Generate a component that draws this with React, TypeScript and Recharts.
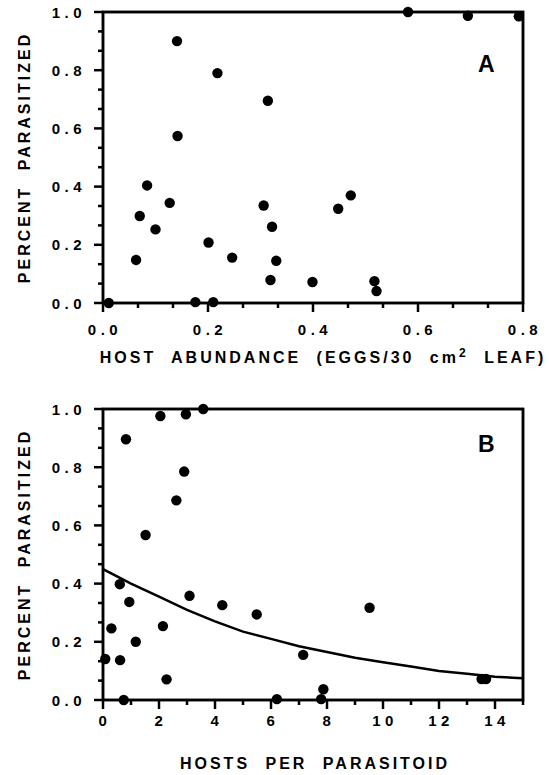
import { ScatterChart, Scatter, XAxis, YAxis, ReferenceArea } from 'recharts'

// panel A: host abundance vs percent parasitized
const abundanceX = [0.011, 0.141, 0.218, 0.314, 0.142, 0.084, 0.127, 0.070, 0.306, 0.100, 0.322, 0.448, 0.472, 0.201, 0.063, 0.246, 0.330, 0.319, 0.399, 0.176, 0.210, 0.517, 0.521, 0.581, 0.695, 0.792]
const abundanceY = [0.0, 0.90, 0.79, 0.695, 0.574, 0.404, 0.344, 0.299, 0.335, 0.253, 0.262, 0.324, 0.37, 0.208, 0.148, 0.156, 0.145, 0.079, 0.072, 0.003, 0.003, 0.075, 0.041, 1.0, 0.987, 0.985]

// panel B: hosts per parasitoid vs percent parasitized
const hostsX = [3.58, 2.05, 2.96, 0.82, 2.90, 2.62, 1.52, 0.60, 3.09, 0.94, 4.26, 5.49, 0.30, 2.14, 1.17, 0.08, 0.61, 2.27, 0.74, 6.21, 7.15, 7.87, 7.79, 9.52, 13.52, 13.68]
const hostsY = [1.0, 0.976, 0.982, 0.896, 0.785, 0.686, 0.567, 0.398, 0.358, 0.337, 0.326, 0.294, 0.246, 0.254, 0.200, 0.141, 0.137, 0.071, 0.0, 0.003, 0.155, 0.037, 0.003, 0.317, 0.072, 0.072]

// fitted curve in panel B
const curveX = [0, 1, 2, 3, 4, 5, 6, 7, 8, 9, 10, 11, 12, 13, 14, 15]
const curveY = [0.45, 0.40, 0.355, 0.31, 0.27, 0.235, 0.21, 0.185, 0.165, 0.145, 0.13, 0.115, 0.10, 0.09, 0.08, 0.075]

const pctLabels = ['0.0', '0.2', '0.4', '0.6', '0.8', '1.0']
const abundanceLabels = ['0.0', '0.2', '0.4', '0.6', '0.8']
const hostsLabels = ['0', '2', '4', '6', '8', '10', '12', '14']

const X_MAX_A = 0.8
const X_MAX_B = 15

const dataA = abundanceX.map((x, i) => ({ x, y: abundanceY[i] }))
const dataB = hostsX.map((x, i) => ({ x, y: hostsY[i] }))
const curve = curveX.map((x, i) => ({ x, y: curveY[i] }))

// three minor steps per 0.2 on the decimal axes
const thirds = (max: number) => Array.from({ length: Math.round(max / 0.2) * 3 + 1 }, (_, i) => (i * 0.2) / 3)
const pctTicks = thirds(1)
const abTicks = thirds(X_MAX_A)
const hostTicks = Array.from({ length: X_MAX_B + 1 }, (_, i) => i)

const labelFor = (v: number, labels: string[], step: number) => {
  const k = v / step
  if (Math.abs(k - Math.round(k)) > 1e-6) return null
  return labels[Math.round(k)] ?? ''
}

// box around the plot, and tick marks as points on the axes
const frame = (xMax: number) => [{ x: 0, y: 0 }, { x: xMax, y: 0 }, { x: xMax, y: 1 }, { x: 0, y: 1 }, { x: 0, y: 0 }]
const xMarks = (ticks: number[], labels: string[], step: number) =>
  ticks.map(x => ({ x, y: 0, len: labelFor(x, labels, step) === null ? 5 : 9 }))
const yMarks = pctTicks.map(y => ({ x: 0, y, len: labelFor(y, pctLabels, 0.2) === null ? 5 : 9 }))

const FONT = '"Liberation Sans", Arial, sans-serif'
const TXT = { fontFamily: FONT, fontWeight: 700, fill: '#000' }

const Dot = (p: any) => <circle cx={p.cx} cy={p.cy} r={5.2} fill="#000" />
const XMark = (p: any) => <path d={`M${p.cx},${p.cy}v${p.payload.len}`} stroke="#000" strokeWidth={2.5} fill="none" />
const YMark = (p: any) => <path d={`M${p.cx},${p.cy}h${-p.payload.len}`} stroke="#000" strokeWidth={2.5} fill="none" />
const NoShape = () => null

const YTick = (p: any) => {
  const t = labelFor(p.payload.value, pctLabels, 0.2)
  if (!t) return <g />
  return <text x={p.x - 17} y={p.y} dy={5.5} textAnchor="end" fontSize={15} letterSpacing={4.5} {...TXT}>{t}</text>
}

const makeXTick = (labels: string[], step: number, dy: number) => (p: any) => {
  const t = labelFor(p.payload.value, labels, step)
  if (!t) return <g />
  return <text x={p.x + 2} y={p.y} dy={dy} textAnchor="middle" fontSize={15} letterSpacing={4.5} {...TXT}>{t}</text>
}

const titleProps = { fontSize: 16, letterSpacing: 3, wordSpacing: 8, style: { wordSpacing: 8 }, ...TXT }

const yTitle = (p: any) => {
  const vb = p.viewBox
  const cy = vb.y + vb.height / 2
  return (
    <text x={24} y={cy} transform={`rotate(-90 24 ${cy})`} textAnchor="middle" dy={6} {...titleProps}>
      PERCENT PARASITIZED
    </text>
  )
}

const xTitleA = (p: any) => {
  const vb = p.viewBox
  return (
    <text x={vb.x + vb.width / 2 + 10} y={vb.y + 54} dy={6} textAnchor="middle" {...titleProps}>
      HOST ABUNDANCE (EGGS/30 cm<tspan dy={-6} fontSize={12}>2</tspan><tspan dy={6}> LEAF)</tspan>
    </text>
  )
}

const xTitleB = (p: any) => {
  const vb = p.viewBox
  return (
    <text x={vb.x + vb.width / 2 + 2} y={vb.y + 63} dy={6} textAnchor="middle" {...titleProps}>
      HOSTS PER PARASITOID
    </text>
  )
}

const panelLetter = (letter: string, top: number) => (p: any) => {
  const vb = p.viewBox
  return <text x={vb.x + vb.width - 45} y={vb.y + top} fontSize={23} {...TXT}>{letter}</text>
}

const lineStyle = { stroke: '#000', strokeWidth: 2.5 }

export default function App() {
  return (
    <div style={{ width: 549, height: 775 }}>
      <style>{'body{margin:0;overflow:hidden}'}</style>
      <ScatterChart width={549} height={395} margin={{ top: 12, right: 26, bottom: 62, left: 43 }}>
        <XAxis type="number" dataKey="x" domain={[0, X_MAX_A]} ticks={abTicks} interval={0} tick={makeXTick(abundanceLabels, 0.2, 32)} tickSize={0} tickMargin={0} height={30} axisLine={false} tickLine={false} label={xTitleA} />
        <YAxis type="number" dataKey="y" domain={[0, 1]} ticks={pctTicks} interval={0} tick={YTick} tickSize={0} tickMargin={0} width={60} axisLine={false} tickLine={false} label={yTitle} />
        <ReferenceArea x1={0} x2={X_MAX_A} y1={0} y2={1} fill="#fff" fillOpacity={0} stroke="#000" strokeWidth={2.5} label={panelLetter('A', 60)} />
        <Scatter data={frame(X_MAX_A)} line={lineStyle} lineType="joint" shape={NoShape} isAnimationActive={false} />
        <Scatter data={xMarks(abTicks, abundanceLabels, 0.2)} shape={XMark} isAnimationActive={false} />
        <Scatter data={yMarks} shape={YMark} isAnimationActive={false} />
        <Scatter data={dataA} shape={Dot} isAnimationActive={false} />
      </ScatterChart>
      <ScatterChart width={549} height={380} margin={{ top: 14, right: 26, bottom: 45, left: 43 }}>
        <XAxis type="number" dataKey="x" domain={[0, X_MAX_B]} ticks={hostTicks} interval={0} tick={makeXTick(hostsLabels, 2, 26)} tickSize={0} tickMargin={0} height={30} axisLine={false} tickLine={false} label={xTitleB} />
        <YAxis type="number" dataKey="y" domain={[0, 1]} ticks={pctTicks} interval={0} tick={YTick} tickSize={0} tickMargin={0} width={60} axisLine={false} tickLine={false} label={yTitle} />
        <ReferenceArea x1={0} x2={X_MAX_B} y1={0} y2={1} fill="#fff" fillOpacity={0} stroke="#000" strokeWidth={2.5} label={panelLetter('B', 43)} />
        <Scatter data={frame(X_MAX_B)} line={lineStyle} lineType="joint" shape={NoShape} isAnimationActive={false} />
        <Scatter data={xMarks(hostTicks, hostsLabels, 2)} shape={XMark} isAnimationActive={false} />
        <Scatter data={yMarks} shape={YMark} isAnimationActive={false} />
        <Scatter data={curve} line={{ stroke: '#000', strokeWidth: 2.5 }} lineType="joint" shape={NoShape} isAnimationActive={false} />
        <Scatter data={dataB} shape={Dot} isAnimationActive={false} />
      </ScatterChart>
    </div>
  )
}
